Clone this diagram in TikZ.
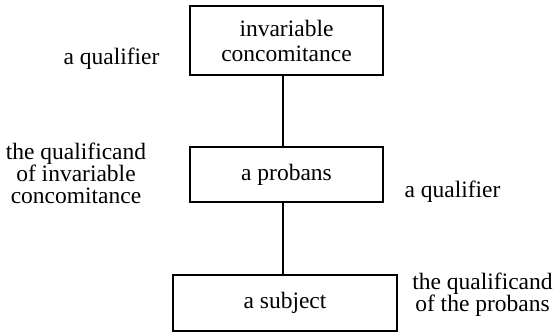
\documentclass[tikz,border=0pt]{standalone}
\usepackage{fontspec}
\setmainfont{Liberation Serif}
\begin{document}
\begin{tikzpicture}[x=1pt,y=-1pt,
  box/.style={draw, line width=1.6pt, inner sep=0pt, align=center,
    font=\fontsize{23.5}{25}\selectfont},
  lbl/.style={inner sep=0pt, align=center, font=\fontsize{23.5}{22}\selectfont},
  conn/.style={line width=1.6pt}]
\useasboundingbox (0,0) rectangle (555,333);
\node[box, minimum width=193pt, minimum height=69pt] (top) at (286.5,40.5) {invariable\\concomitance};
\node[box, minimum width=193pt, minimum height=55pt] (mid) at (286.5,174.5) {a probans};
\node[box, minimum width=224pt, minimum height=56pt] (bot) at (285,303) {a subject};
\draw[conn] ([xshift=-3.5pt]top.south) -- ([xshift=-3.5pt]mid.north);
\draw[conn] ([xshift=-3.5pt]mid.south) -- ([xshift=-3.5pt]mid.south |- bot.north);
\node[lbl] (q1) at (111.5,58.5) {a qualifier};
\node[lbl] (qd1) at (76,173) {the qualificand\\of invariable\\concomitance};
\node[lbl] (q2) at (452.5,192) {a qualifier};
\node[lbl] (qd2) at (482.5,295) {the qualificand\\of the probans};
\end{tikzpicture}
\end{document}
